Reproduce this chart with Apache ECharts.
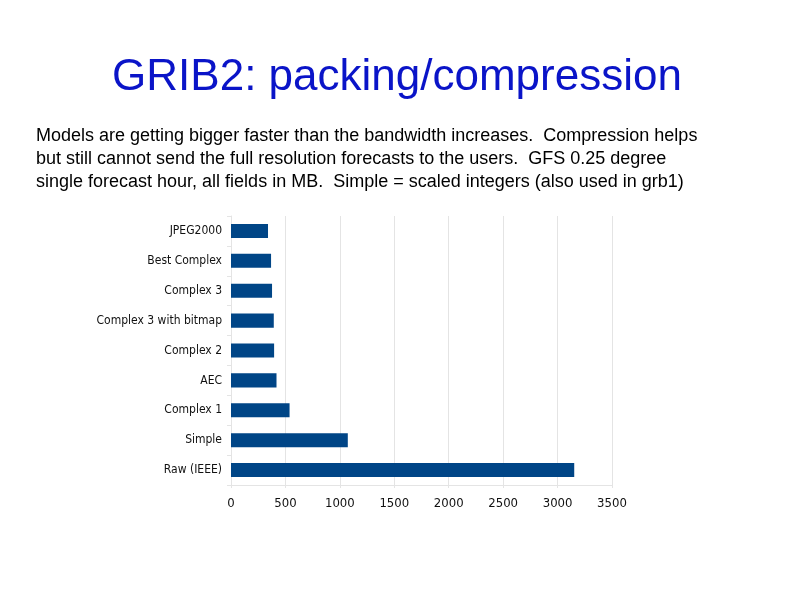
<!DOCTYPE html>
<html>
<head>
<meta charset="utf-8">
<script src="https://cdn.jsdelivr.net/npm/echarts@6/dist/echarts.min.js"></script>
<style>
  html, body { margin: 0; padding: 0; background: #fff; }
  #chart { width: 794px; height: 595px; }
</style>
</head>
<body>
<div id="chart"></div>
<script>
// GRIB2 packing sizes, GFS 0.25 deg, one forecast hour, MB (top to bottom)
var methods = ["JPEG2000", "Best Complex", "Complex 3", "Complex 3 with bitmap",
               "Complex 2", "AEC", "Complex 1", "Simple", "Raw (IEEE)"];
var sizesMB = [340, 368, 377, 393, 396, 418, 538, 1073, 3153];

var TITLE = "GRIB2: packing/compression";
var NOTE = [
  "Models are getting bigger faster than the bandwidth increases.  Compression helps",
  "but still cannot send the full resolution forecasts to the users.  GFS 0.25 degree",
  "single forecast hour, all fields in MB.  Simple = scaled integers (also used in grb1)"
];

var NARROW = "'DejaVu Sans Condensed', 'Liberation Sans', sans-serif";
var GRID_GREY = "#e4e4e4";

var chart = echarts.init(document.getElementById("chart"));
chart.setOption({
  backgroundColor: "#fff",
  animation: false,
  title: {
    text: TITLE, left: "center", top: 51,
    textStyle: { color: "#0a14c8", fontFamily: "'Liberation Sans', Arial, sans-serif",
                 fontSize: 44, fontWeight: "normal" }
  },
  graphic: [{
    type: "text", left: 36, top: 125,
    style: {
      text: NOTE.join("\n"), fill: "#000", lineHeight: 23,
      font: "18px 'Liberation Sans', Arial, sans-serif"
    }
  }],
  grid: { left: 231, right: 182, top: 216, bottom: 110 },
  xAxis: {
    type: "value", min: 0, max: 3500, interval: 500,
    axisLine: { show: true, lineStyle: { color: GRID_GREY } },
    axisTick: { show: true, length: 3, lineStyle: { color: GRID_GREY } },
    splitLine: { show: true, lineStyle: { color: GRID_GREY } },
    axisLabel: { color: "#111", fontFamily: NARROW, fontSize: 13, margin: 12,
                 formatter: function (v) { return String(v); } }
  },
  yAxis: {
    type: "category", data: methods, inverse: true,
    axisLine: { show: true, lineStyle: { color: GRID_GREY } },
    axisTick: { show: true, length: 4, lineStyle: { color: GRID_GREY } },
    axisLabel: { color: "#111", fontFamily: NARROW, fontSize: 12, margin: 9 }
  },
  series: [{
    type: "bar", data: sizesMB, barWidth: "47%",
    itemStyle: { color: "#004586" }
  }]
});
</script>
</body>
</html>
